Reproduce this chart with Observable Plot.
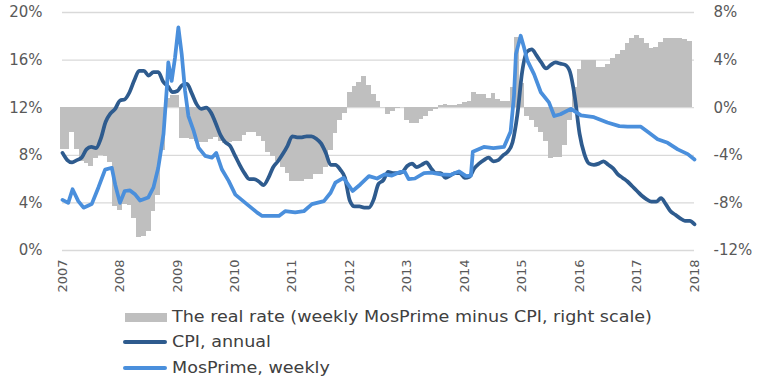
<!DOCTYPE html>
<html>
<head>
<meta charset="utf-8">
<script src="https://cdn.jsdelivr.net/npm/d3@7"></script>
<script src="https://cdn.jsdelivr.net/npm/@observablehq/plot@0.6"></script>
<style>
  body { margin: 0; background: #fff; font-family: "DejaVu Sans", sans-serif; }
  #wrap { width: 759px; height: 382px; position: relative; overflow: hidden; }
  .legend { position: relative; height: 86px; }
  .row { position: absolute; left: 0; height: 20px; width: 700px; }
  .sw { position: absolute; }
  .lab { position: absolute; left: 172px; top: 0; line-height: 20px; font-size: 15px; color: #404040;
         white-space: nowrap; transform-origin: left center; transform: scaleX(1.17); }
</style>
</head>
<body>
<div id="wrap"></div>
<script>
// ---- data ----
const startYear = 2007;
// Real rate, monthly, Jan 2007 .. Dec 2017 (percentage points, right scale)
const realRate = [
  -3.5, -3.5, -2.1, -3.5, -4.5, -4.7, -4.9, -4.3, -4.0, -4.1, -4.6, -8.3,
  -8.6, -8.1, -8.2, -9.3, -10.9, -10.8, -10.4, -8.7, -7.4, -3.6, 0.8, 1.0,
  1.0, -2.6, -2.6, -2.7, -2.8, -2.9, -2.9, -2.7, -2.5, -2.8, -3.0, -2.9,
  -2.8, -2.8, -2.3, -2.1, -2.1, -2.4, -2.8, -3.8, -4.1, -4.5, -5.0, -5.5,
  -6.2, -6.2, -6.2, -6.0, -6.0, -5.6, -5.6, -5.0, -3.6, -2.2, -1.1, -0.45,
  1.3, 1.8, 2.1, 2.6, 1.9, 1.1, 0.5, 0.0, -0.55, -0.3, -0.05, 0.05,
  -1.1, -1.3, -1.3, -1.0, -0.7, -0.3, -0.15, 0.15, 0.3, 0.15, 0.15, 0.3,
  0.45, 0.55, 1.3, 1.1, 1.1, 0.8, 1.2, 0.65, 0.5, 0.5, 1.7, 5.9,
  2.0, -0.7, -1.1, -1.7, -2.1, -2.8, -4.3, -4.2, -4.2, -3.2, -1.1, 1.7,
  3.25, 4.0, 4.0, 4.0, 3.4, 3.4, 3.6, 4.1, 4.5, 4.8, 5.4, 5.8,
  6.05, 5.8, 5.4, 5.0, 5.1, 5.5, 5.85, 5.85, 5.85, 5.85, 5.7, 5.6
];
// CPI, annual, monthly, Jan 2007 .. Jan 2018 (%)
const cpi = [
  8.2, 7.6, 7.4, 7.6, 7.8, 8.5, 8.7, 8.6, 9.4, 10.8, 11.5, 11.9,
  12.6, 12.7, 13.3, 14.3, 15.1, 15.1, 14.7, 15.0, 15.0, 14.2, 13.8, 13.3,
  13.4, 13.9, 14.0, 13.2, 12.3, 11.9, 12.0, 11.6, 10.7, 9.7, 9.1, 8.8,
  8.0, 7.2, 6.5, 6.0, 6.0, 5.8, 5.5, 6.1, 7.0, 7.5, 8.1, 8.8,
  9.6, 9.5, 9.5, 9.6, 9.6, 9.4, 9.0, 8.2, 7.2, 7.2, 6.8, 6.1,
  4.2, 3.7, 3.7, 3.6, 3.6, 4.3, 5.6, 5.9, 6.6, 6.5, 6.5, 6.6,
  7.1, 7.3, 7.0, 7.2, 7.4, 6.9, 6.5, 6.5, 6.1, 6.3, 6.5, 6.5,
  6.1, 6.2, 6.9, 7.3, 7.6, 7.8, 7.5, 7.6, 8.0, 8.3, 9.1, 11.4,
  15.0, 16.7, 16.9, 16.4, 15.8, 15.3, 15.6, 15.8, 15.7, 15.6, 15.0, 12.9,
  9.8, 8.1, 7.3, 7.2, 7.3, 7.5, 7.2, 6.9, 6.4, 6.1, 5.8, 5.4,
  5.0, 4.6, 4.3, 4.1, 4.1, 4.4, 3.9, 3.3, 3.0, 2.7, 2.5, 2.5,
  2.2
];
// MosPrime, weekly: months since Jan 2007, value %
const mosMonth = [
  0, 1.2, 2.1, 3.3, 4.4, 6.1, 7.5, 8.9, 10.3, 11, 12, 13, 14.1, 15.2, 16.2, 17.9, 19, 20,
  21.1, 21.8, 22.1, 22.8, 23.5, 24.2, 24.9, 25.6, 26.3, 27.4, 28.4, 29.8, 31.2, 32.1, 33.3,
  34.7, 36.1, 38.5, 40.6, 41.7, 45.2, 46.5, 48.6, 50.4, 52.1, 54.6, 56, 57, 58.7, 60.6,
  62.2, 64, 65.7, 67.3, 68.8, 70.5, 71.5, 72.3, 73.6, 75.5, 77, 79, 81, 82.8, 84.3, 85.3,
  85.7, 88, 90, 92.2, 93.6, 94.3, 94.7, 95.7, 96.4, 97.1, 98.5, 99.9, 101.6, 102.7, 104,
  106.2, 108.3, 111, 113.8, 116.3, 118, 120.8, 122.5, 124.3, 126.4, 128.5, 130.6, 132
];
const mosValue = [
  4.25, 4.0, 5.15, 4.15, 3.6, 3.9, 5.3, 6.8, 6.95, 5.55, 4.0, 5.0, 5.05, 4.7, 4.2, 4.45, 5.3, 6.95,
  9.8, 13.7, 15.8, 14.25, 16.2, 18.75, 16.5, 13.4, 11.3, 10.05, 8.65, 7.95, 7.8, 8.2, 6.8,
  5.85, 4.7, 3.9, 3.2, 2.9, 2.9, 3.3, 3.2, 3.3, 3.9, 4.15, 4.85, 5.7, 6.1, 5.0,
  5.55, 6.25, 6.05, 6.4, 6.3, 6.6, 6.6, 6.0, 6.05, 6.5, 6.55, 6.4, 6.35, 6.65, 6.25, 6.3,
  8.3, 8.7, 8.6, 8.7, 10.0, 13.0, 16.5, 18.05, 17.05, 15.95, 14.8, 13.3, 12.45, 11.3, 11.45,
  11.9, 11.35, 11.2, 10.75, 10.45, 10.4, 10.4, 9.9, 9.35, 9.05, 8.5, 8.1, 7.65
];
const yearTicks = [2007, 2008, 2009, 2010, 2011, 2012, 2013, 2014, 2015, 2016, 2017, 2018];
const leftTicks = [0, 4, 8, 12, 16, 20];
const rightZero = 12; // left-scale value that matches 0% on the right scale
const seriesNames = ["The real rate (weekly MosPrime minus CPI, right scale)", "CPI, annual", "MosPrime, weekly"];
const colors = { real: "#bfbfbf", cpi: "#2E5B8E", mos: "#4A8FDC" };

// ---- tables built from the arrays ----
const bars = realRate.map((v, i) => ({
  x1: startYear + (i - 0.5) / 12, x2: startYear + (i + 0.5) / 12, y1: rightZero, y2: rightZero + v
}));
const cpiData = cpi.map((v, i) => ({ x: startYear + i / 12, y: v }));
const mosData = mosMonth.map((m, i) => ({ x: startYear + m / 12, y: mosValue[i] }));

const chart = Plot.plot({
  width: 759, height: 296,
  marginLeft: 62, marginRight: 65, marginTop: 12, marginBottom: 46,
  x: { domain: [2007, 2018] },
  y: { domain: [0, 20] },
  style: { fontFamily: "DejaVu Sans", fontSize: "15px", color: "#595959", background: "white", overflow: "visible" },
  marks: [
    Plot.gridY(leftTicks, { stroke: "#d9d9d9", strokeOpacity: 1, strokeWidth: 1.3 }),
    Plot.rect(bars, { x1: "x1", x2: "x2", y1: "y1", y2: "y2", fill: colors.real, shapeRendering: "crispEdges" }),
    Plot.line(cpiData, { x: "x", y: "y", stroke: colors.cpi, strokeWidth: 3.75, curve: "monotone-x", strokeLinejoin: "round" }),
    Plot.line(mosData, { x: "x", y: "y", stroke: colors.mos, strokeWidth: 3.75, strokeLinejoin: "round" }),
    Plot.axisY(leftTicks, { anchor: "left", tickSize: 0, tickPadding: 20, tickFormat: d => d + "%", label: null }),
    Plot.axisY(leftTicks, { anchor: "right", tickSize: 0, tickPadding: 19, tickFormat: d => (d - rightZero) + "%", label: null }),
    Plot.axisX(yearTicks, { tickSize: 0, tickPadding: 9, tickRotate: -90, tickFormat: d => String(d), fontSize: 13, label: null })
  ]
});
const wrap = document.getElementById("wrap");
wrap.appendChild(chart);

// ---- legend ----
const legend = document.createElement("div");
legend.className = "legend";
const rowsTop = [11, 36, 62];
seriesNames.forEach((name, i) => {
  const row = document.createElement("div");
  row.className = "row";
  row.style.top = rowsTop[i] + "px";
  const sw = document.createElement("div");
  sw.className = "sw";
  if (i === 0) {
    Object.assign(sw.style, { left: "125px", width: "42px", height: "9px", top: "5.5px", background: colors.real });
  } else {
    Object.assign(sw.style, { left: "123px", width: "44px", height: "4px", top: "8px", borderRadius: "2px",
      background: i === 1 ? colors.cpi : colors.mos });
  }
  const lab = document.createElement("span");
  lab.className = "lab";
  lab.textContent = name;
  row.appendChild(sw);
  row.appendChild(lab);
  legend.appendChild(row);
});
wrap.appendChild(legend);
</script>
</body>
</html>
